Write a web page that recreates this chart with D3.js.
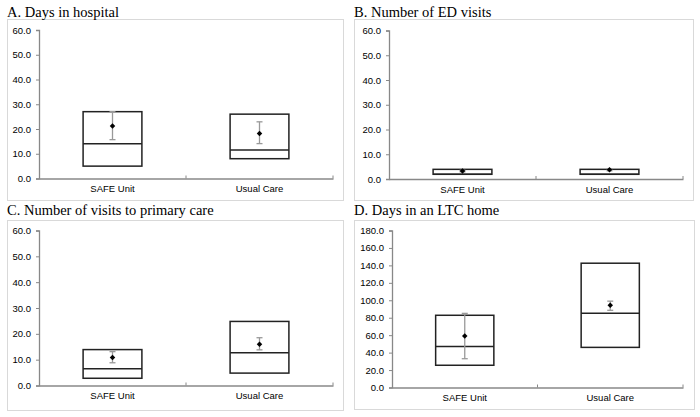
<!DOCTYPE html>
<html>
<head>
<meta charset="utf-8">
<script src="https://cdn.jsdelivr.net/npm/d3@7"></script>
<style>
  html, body { margin: 0; padding: 0; background: #fff; }
  svg { display: block; }
</style>
</head>
<body>
<svg id="chart" width="700" height="417"></svg>
<script>
// ---- Data ----
const categories = ["SAFE Unit", "Usual Care"];
const panelTitles = ["A. Days in hospital", "B. Number of ED visits", "C. Number of visits to primary care", "D. Days in an LTC home"];
const q1Values     = [[5.0, 8.0],  [1.9, 1.9], [2.8, 4.8],   [25.5, 46.0]];
const medianValues = [[14.0, 11.5],[1.9, 1.9], [6.5, 12.7],  [47.0, 85.0]];
const q3Values     = [[27.0, 26.0],[3.9, 3.9], [13.9, 24.8], [82.8, 142.5]];
const meanValues   = [[21.2, 18.2],[3.2, 3.7], [10.8, 16.0], [59.0, 94.2]];
const ciLowValues  = [[15.7, 14.1],[2.9, 3.3], [8.8, 13.8],  [33.0, 88.5]];
const ciHighValues = [[27.0, 22.9],[3.5, 4.1], [13.1, 18.5], [85.0, 99.0]];
const yMaxValues   = [60, 60, 60, 180];
const yStepValues  = [10, 10, 10, 20];

// ---- Layout ----
const layouts = [
  { frame: [7, 19, 343, 200], titleX: 7, titleY: 17, x0: 39, x1: 333, yTop: 30, yBot: 178.5 },
  { frame: [354, 19, 693, 200], titleX: 354, titleY: 17, x0: 389, x1: 683, yTop: 30.5, yBot: 179 },
  { frame: [7, 220, 343, 410], titleX: 7, titleY: 215, x0: 39, x1: 333, yTop: 230.5, yBot: 385.5 },
  { frame: [354, 220, 694, 409], titleX: 354, titleY: 215, x0: 392, x1: 683, yTop: 230.5, yBot: 387.5 }
];

const svg = d3.select("#chart");

layouts.forEach((L, i) => {
  const g = svg.append("g");
  // frame
  g.append("rect")
    .attr("x", L.frame[0] + 0.5).attr("y", L.frame[1] + 0.5)
    .attr("width", L.frame[2] - L.frame[0]).attr("height", L.frame[3] - L.frame[1])
    .attr("fill", "#fff").attr("stroke", "#d9d9d9").attr("stroke-width", 1);
  // title
  g.append("text")
    .attr("x", L.titleX).attr("y", L.titleY)
    .attr("font-family", "'Liberation Serif', 'Times New Roman', serif")
    .attr("font-size", 14.5).attr("fill", "#000")
    .text(panelTitles[i]);

  const x = d3.scaleBand().domain(categories).range([L.x0, L.x1]).paddingInner(0).paddingOuter(0);
  const y = d3.scaleLinear().domain([0, yMaxValues[i]]).range([L.yBot, L.yTop]);
  const ticks = d3.range(0, yMaxValues[i] + 0.001, yStepValues[i]);

  // y axis
  const yAxis = d3.axisLeft(y).tickValues(ticks).tickFormat(d3.format(".1f")).tickSize(3).tickPadding(5);
  const ya = g.append("g").attr("transform", `translate(${L.x0},0)`).call(yAxis);
  ya.select(".domain").attr("stroke", "#888").attr("stroke-width", 1.3);
  ya.selectAll(".tick line").attr("stroke", "#888");
  ya.selectAll(".tick text").attr("font-family", "'Liberation Sans', Arial, sans-serif").attr("font-size", 9.5).attr("fill", "#000");

  // x axis
  const xAxis = d3.axisBottom(x).tickSize(0).tickPadding(7);
  const xa = g.append("g").attr("transform", `translate(0,${L.yBot})`).call(xAxis);
  xa.select(".domain").attr("stroke", "#888").attr("stroke-width", 1.3);
  xa.selectAll(".tick text").attr("font-family", "'Liberation Sans', Arial, sans-serif").attr("font-size", 9.5).attr("fill", "#000");
  // category boundary ticks (upward)
  const bounds = [L.x0 + x.bandwidth(), L.x1];
  g.selectAll(".bt").data(bounds).enter().append("line")
    .attr("x1", d => d).attr("x2", d => d)
    .attr("y1", L.yBot).attr("y2", L.yBot - 3)
    .attr("stroke", "#888").attr("stroke-width", 1);

  const boxW = x.bandwidth() * 0.4;
  categories.forEach((c, j) => {
    const cx = x(c) + x.bandwidth() / 2;
    // box
    g.append("rect")
      .attr("x", cx - boxW / 2).attr("y", y(q3Values[i][j]))
      .attr("width", boxW).attr("height", y(q1Values[i][j]) - y(q3Values[i][j]))
      .attr("fill", "none").attr("stroke", "#222").attr("stroke-width", 1.5);
    // median
    g.append("line")
      .attr("x1", cx - boxW / 2).attr("x2", cx + boxW / 2)
      .attr("y1", y(medianValues[i][j])).attr("y2", y(medianValues[i][j]))
      .attr("stroke", "#222").attr("stroke-width", 1.5);
    // error bar
    const capW = 3;
    g.append("line")
      .attr("x1", cx).attr("x2", cx)
      .attr("y1", y(ciLowValues[i][j])).attr("y2", y(ciHighValues[i][j]))
      .attr("stroke", "#999").attr("stroke-width", 1.3);
    [ciLowValues[i][j], ciHighValues[i][j]].forEach(v => {
      g.append("line")
        .attr("x1", cx - capW).attr("x2", cx + capW)
        .attr("y1", y(v)).attr("y2", y(v))
        .attr("stroke", "#999").attr("stroke-width", 1.3);
    });
    // mean marker (square rotated 45°)
    g.append("path")
      .attr("d", d3.symbol().type(d3.symbolSquare).size(15)())
      .attr("transform", `translate(${cx},${y(meanValues[i][j])}) rotate(45)`)
      .attr("fill", "#000");
  });
});
</script>
</body>
</html>
